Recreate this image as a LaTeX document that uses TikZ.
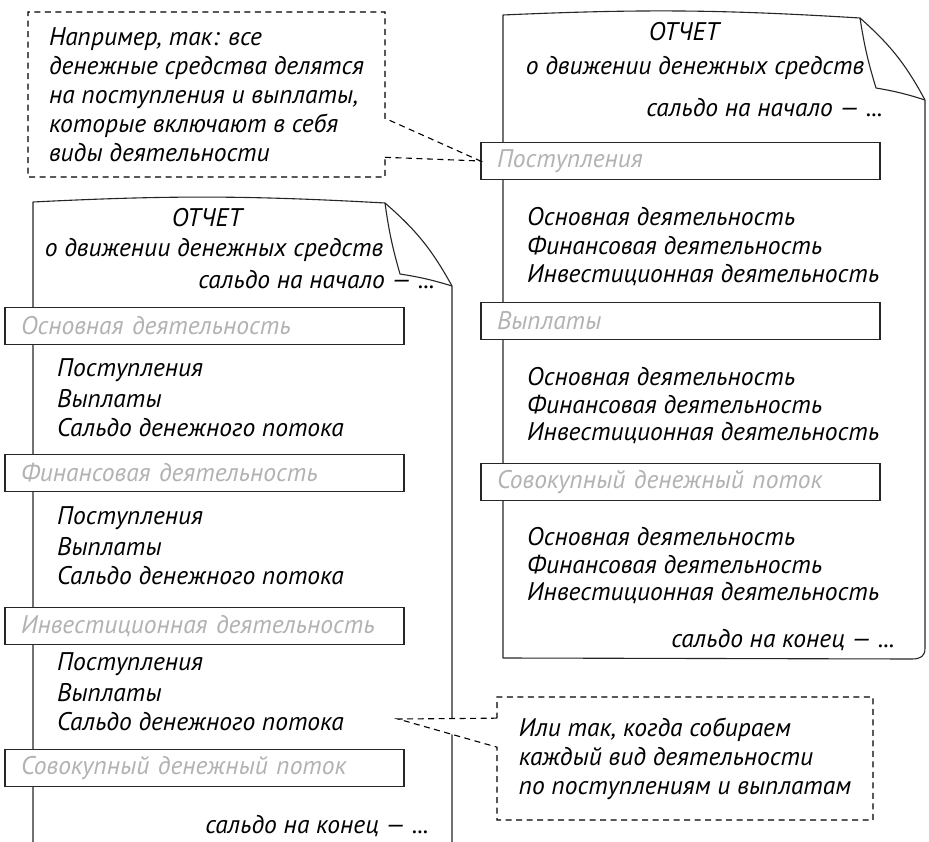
\documentclass[tikz,border=0pt]{standalone}
\usepackage{fontspec}
\setmainfont{PT Sans}
\usetikzlibrary{shapes.callouts,positioning}

\begin{document}
\begin{tikzpicture}[
  x=1pt,y=-1pt,
  font=\fontsize{25.5}{29}\selectfont\itshape,
  page/.style={draw=black!85, fill=white, line width=1.1pt, line join=round},
  fold/.style={draw=black!85, line width=1.1pt, line join=round},
  bar/.style={draw=black!85, fill=white, line width=1.1pt, minimum height=37pt,
              text width=367pt, inner xsep=16pt, inner ysep=0pt, align=left,
              text=black!30},
  row/.style={anchor=west, inner sep=0pt},
  note/.style={rectangle callout, draw=black, fill=white, line width=1.1pt,
               dash pattern=on 6pt off 4.5pt, inner ysep=0pt, align=left},
]
\useasboundingbox (0,0) rectangle (929,842);

% ---------------- right page (by kind of cash flow) ----------------
\draw[page] (503,658) -- (503,15) to[bend left=3] (860,18) to[bend left=10] (925,100)
  -- (925,648) .. controls (925,656) and (921,659) .. (912,659) -- cycle;
\draw[fold] (860,18) to[bend right=4] (876,88) to[bend left=4] (925,100);

\node (rtitle) at (684,32) {ОТЧЕТ};
\node (rsub) at (695,68) {о движении денежных средств};
\node[anchor=east] (rstart) at (886,108) {сальдо на начало — ...};

\node[bar] (rbin) at (680.5,161) {Поступления};
\node[row] (rin1) at (527,217) {Основная деятельность};
\node[row] (rin2) at (527,246) {Финансовая деятельность};
\node[row] (rin3) at (527,275) {Инвестиционная деятельность};

\node[bar] (rbout) at (680.5,321) {Выплаты};
\node[row] (rout1) at (527,377) {Основная деятельность};
\node[row] (rout2) at (527,405) {Финансовая деятельность};
\node[row] (rout3) at (527,433) {Инвестиционная деятельность};

\node[bar] (rbsum) at (680.5,482) {Совокупный денежный поток};
\node[row] (rsum1) at (527,537) {Основная деятельность};
\node[row] (rsum2) at (527,565) {Финансовая деятельность};
\node[row] (rsum3) at (527,593) {Инвестиционная деятельность};

\node[anchor=east] (rend) at (898,640) {сальдо на конец — ...};

% ---------------- left page (by kind of activity) ----------------
\draw[page] (33,845) -- (33,202) to[bend left=3] (385,203) to[bend left=10] (452,286)
  -- (452,845);
\draw[fold] (385,203) to[bend right=4] (400,274) to[bend left=4] (452,286);

\node (ltitle) at (207,218) {ОТЧЕТ};
\node (lsub) at (214,250) {о движении денежных средств};
\node[anchor=east] (lstart) at (438,280) {сальдо на начало — ...};

\node[bar] (lbop) at (204.5,326) {Основная деятельность};
\node[row] (lop1) at (57,370) {Поступления};
\node[row] (lop2) at (57,399) {Выплаты};
\node[row] (lop3) at (57,428) {Сальдо денежного потока};

\node[bar] (lbfin) at (204.5,473) {Финансовая деятельность};
\node[row] (lfin1) at (57,518) {Поступления};
\node[row] (lfin2) at (57,547) {Выплаты};
\node[row] (lfin3) at (57,576) {Сальдо денежного потока};

\node[bar] (lbinv) at (204.5,626) {Инвестиционная деятельность};
\node[row] (linv1) at (57,664) {Поступления};
\node[row] (linv2) at (57,693) {Выплаты};
\node[row] (linv3) at (57,722) {Сальдо денежного потока};

\node[bar] (lbsum) at (204.5,768) {Совокупный денежный поток};
\node[anchor=east] (lend) at (432,826) {сальдо на конец — ...};

% ---------------- comments ----------------
\node[note, callout absolute pointer={(rbin.west)}, callout pointer width=39pt,
      minimum width=357pt, minimum height=165pt] (noteA) at (206.5,94.5)
{Например, так: все\\
денежные средства делятся\\
на поступления и выплаты,\\
которые включают в себя\\
виды деятельности};

\coordinate (tipB) at (398,719);
\node[note, callout absolute pointer={(tipB)}, callout pointer width=29pt,
      minimum width=376pt, minimum height=123pt] (noteB) at (685,758.5)
{Или так, когда собираем\\
каждый вид деятельности\\
по поступлениям и выплатам};

\end{tikzpicture}
\end{document}
